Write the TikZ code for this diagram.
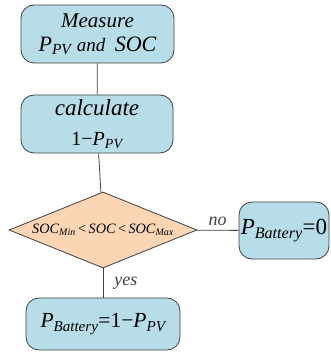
\documentclass[tikz,border=0pt]{standalone}
\usepackage{fontspec}
\setmainfont{Liberation Serif}
\usepackage{xcolor}
\usetikzlibrary{shapes.geometric}
\usetikzlibrary{positioning}

\definecolor{boxblue}{HTML}{B7DDE8}
\definecolor{peach}{HTML}{FCD5B5}
\definecolor{edgegray}{HTML}{404040}

\newcommand{\sbs}[1]{\textsubscript{\itshape #1}}
\newcommand{\fs}[1]{\fontsize{#1}{#1}\selectfont}

\begin{document}
\begin{tikzpicture}[
    x=1pt, y=1pt,
    every node/.style={inner sep=0pt, align=center},
    procbox/.style={rectangle, rounded corners=13pt, draw=edgegray, line width=0.8pt, fill=boxblue},
    decision/.style={diamond, draw=edgegray, line width=0.8pt, fill=peach, shape aspect=2.47, minimum width=188pt, minimum height=76pt},
    flow label/.style={font=\itshape\fontsize{18}{18}\selectfont},
  ]
  \useasboundingbox (0,0) rectangle (330,356);

  % Process column
  \node[procbox, minimum width=153pt, minimum height=58pt] (meas) at (97.5, 322)
    {\fs{21}\itshape Measure\\[8pt]
     \fs{22}\itshape P\sbs{PV} \fs{19}and\ \ \fs{22}SOC};
  \node[procbox, minimum width=152pt, minimum height=58pt] (calc) at (97, 232)
    {\fs{23}\itshape calculate\\[15pt]
     \fs{20}1−\itshape P\sbs{PV}};
  \node[decision] (check) at (103, 126)
    {\fs{14.3}\itshape SOC\sbs{Min}\,\upshape<\,\itshape SOC\,\upshape<\,\itshape SOC\sbs{Max}};
  \node[procbox, minimum width=154pt, minimum height=52pt] (pbat) at (103, 32)
    {\fs{21.5}\itshape P\sbs{Battery}\upshape=1−\itshape P\sbs{PV}};

  % Side branch
  \node[procbox, minimum width=90pt, minimum height=57pt] (zero) at (284, 125.5)
    {\fs{23}\itshape P\sbs{Battery}\upshape=0};

  % Connectors
  \draw[edgegray, line width=0.8pt] (meas) -- (calc);
  \draw[edgegray, line width=0.8pt] (calc) -- (check);
  \draw[edgegray, line width=0.8pt] (check) -- node[flow label, above=4pt] {no} (zero);
  \draw[edgegray, line width=0.8pt] (check) -- node[flow label, right=11pt] {yes} (pbat);

\end{tikzpicture}
\end{document}
